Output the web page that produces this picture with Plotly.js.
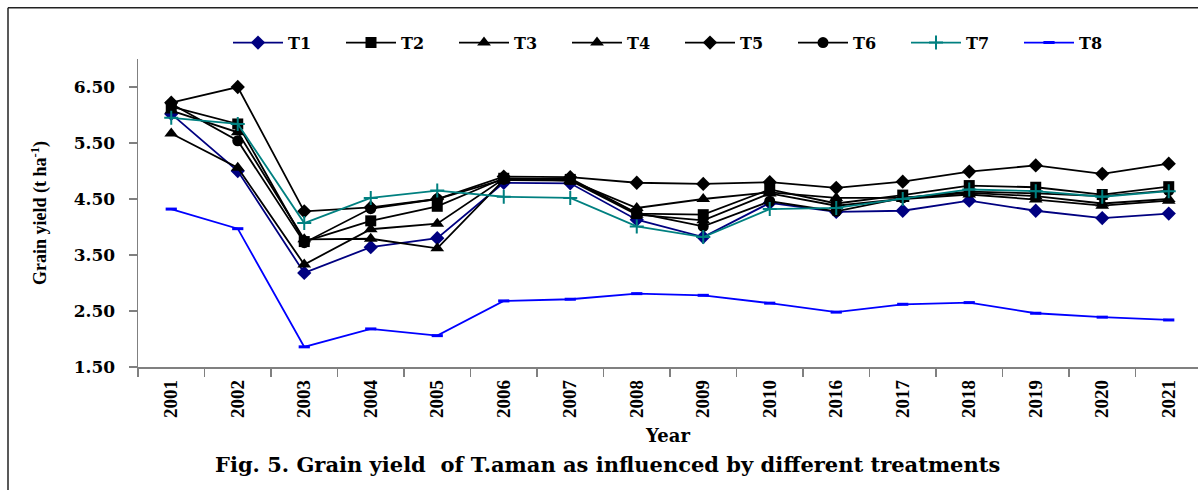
<!DOCTYPE html>
<html>
<head>
<meta charset="utf-8">
<script src="https://cdn.plot.ly/plotly-3.0.1.min.js"></script>
<style>html,body{margin:0;padding:0;background:#fff;}#chart{width:1198px;height:490px;}</style>
</head>
<body>
<div id="chart"></div>
<script>
const years = ["2001","2002","2003","2004","2005","2006","2007","2008","2009","2010","2016","2017","2018","2019","2020","2021"];
const T1 = [6.02,5.00,3.18,3.64,3.80,4.79,4.78,4.13,3.82,4.43,4.27,4.29,4.47,4.29,4.16,4.24];
const T2 = [6.15,5.84,3.74,4.11,4.37,4.87,4.85,4.24,4.22,4.67,4.42,4.57,4.74,4.71,4.58,4.72];
const T3 = [5.67,5.06,3.33,3.96,4.06,4.86,4.83,4.34,4.50,4.62,4.52,4.52,4.61,4.55,4.42,4.50];
const T4 = [6.08,5.69,3.78,3.79,3.62,4.84,4.83,4.22,4.12,4.60,4.38,4.50,4.58,4.49,4.38,4.47];
const T5 = [6.22,6.50,4.28,4.35,4.50,4.90,4.89,4.79,4.77,4.80,4.70,4.81,4.99,5.10,4.95,5.13];
const T6 = [6.20,5.54,3.72,4.33,4.50,4.85,4.87,4.25,4.01,4.46,4.28,4.52,4.63,4.60,4.55,4.65];
const T7 = [5.95,5.84,4.07,4.52,4.65,4.54,4.52,4.01,3.82,4.32,4.34,4.50,4.67,4.64,4.54,4.64];
const T8 = [4.32,3.97,1.86,2.18,2.06,2.68,2.71,2.81,2.78,2.64,2.48,2.62,2.65,2.46,2.39,2.34];
const yTicks = [1.5,2.5,3.5,4.5,5.5,6.5];
const yTickText = ["1.50","2.50","3.50","4.50","5.50","6.50"];

function tr(name, y, color, symbol, size, mline) {
  return {
    type: 'scatter', mode: 'lines+markers', name: name, x: years, y: y,
    line: {color: color, width: 1.8},
    marker: {symbol: symbol, size: size, color: color,
             line: mline ? {color: color, width: mline} : {width: 0}}
  };
}
const data = [
  tr('T1', T1, '#000080', 'diamond', 11),
  tr('T2', T2, '#000000', 'square', 11),
  tr('T3', T3, '#000000', 'triangle-up', 12),
  tr('T4', T4, '#000000', 'triangle-up', 12),
  tr('T5', T5, '#000000', 'diamond', 11),
  tr('T6', T6, '#000000', 'circle', 11),
  tr('T7', T7, '#008080', 'cross-thin-open', 10, 2),
  tr('T8', T8, '#0000FF', 'line-ew-open', 8, 3)
];

const serif = 'Liberation Serif, Times New Roman, serif';
const wide = 'DejaVu Serif, serif';
const FIG_H = 490, PT = 59.3, PB = 367.3, PH = PB - PT, PL = 138, PW = 1060;
const px = v => (v - PL) / PW;
const py = v => (PB - v) / PH;

const layout = {
  width: 1198, height: 490,
  margin: {l: PL, r: 0, t: PT, b: FIG_H - PB, pad: 0},
  paper_bgcolor: '#fff', plot_bgcolor: '#fff',
  showlegend: true,
  legend: {
    orientation: 'h', x: px(228), xanchor: 'left', y: py(43), yanchor: 'middle',
    itemwidth: 50, entrywidth: 48, entrywidthmode: 'pixels',
    font: {family: wide, size: 16, color: '#000', weight: 'bold'},
    bgcolor: 'rgba(0,0,0,0)', borderwidth: 0, tracegroupgap: 0
  },
  xaxis: {
    type: 'category', range: [-0.5, 15.44], fixedrange: true,
    showgrid: false, zeroline: false,
    showline: true, linecolor: '#808080', linewidth: 1.5,
    ticks: 'outside', tickson: 'boundaries', ticklen: 8, tickwidth: 1.5, tickcolor: '#808080',
    tickangle: -90, ticklabelstandoff: 4,
    tickfont: {family: serif, size: 19, color: '#000', weight: 'bold'},
    title: {text: 'Year', font: {family: wide, size: 18, color: '#000', weight: 'bold'}, standoff: 12}
  },
  yaxis: {
    range: [1.5, 7.0], fixedrange: true,
    showgrid: false, zeroline: false,
    showline: true, linecolor: '#808080', linewidth: 1.5,
    ticks: 'outside', ticklen: 8, tickwidth: 1.5, tickcolor: '#808080',
    tickvals: yTicks, ticktext: yTickText, ticklabelstandoff: 10,
    tickfont: {family: wide, size: 17, color: '#000', weight: 'bold'},
    title: {text: 'Grain yield (t ha<sup>-1</sup>)', font: {family: serif, size: 18, color: '#000', weight: 'bold'}, standoff: 22}
  },
  annotations: [{
    xref: 'paper', yref: 'paper', x: px(607), y: py(465), xanchor: 'center', yanchor: 'middle',
    showarrow: false,
    text: 'Fig. 5. Grain yield  of T.aman as influenced by different treatments',
    font: {family: wide, size: 21, color: '#000', weight: 'bold'}
  }],
  shapes: [
    {type: 'line', xref: 'paper', yref: 'paper', x0: px(8), x1: px(8), y0: py(8), y1: py(495), line: {color: '#222', width: 1.5}},
    {type: 'line', xref: 'paper', yref: 'paper', x0: px(8), x1: px(1205), y0: py(8), y1: py(8), line: {color: '#222', width: 1.5}}
  ]
};

Plotly.newPlot('chart', data, layout, {displayModeBar: false, staticPlot: true});
</script>
</body>
</html>
